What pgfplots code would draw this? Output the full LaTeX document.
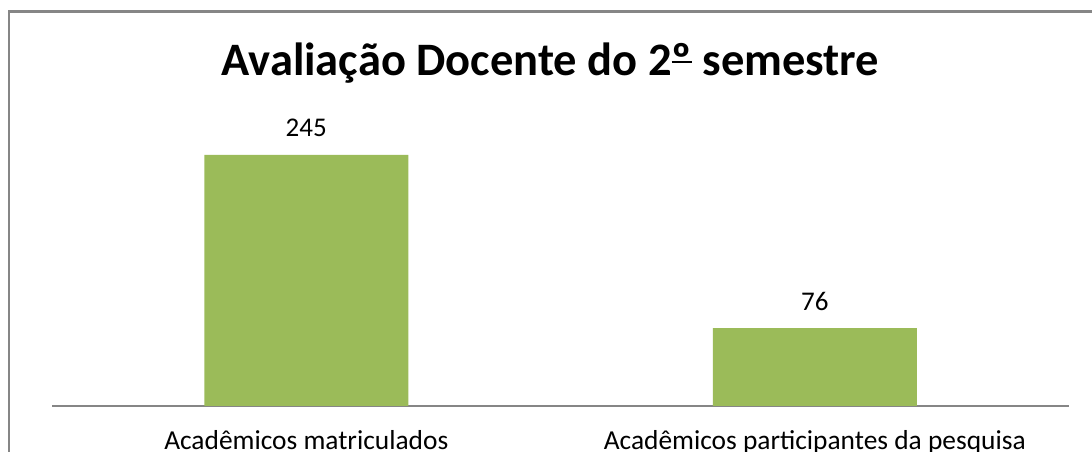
\documentclass[border=0pt]{standalone}
\usepackage{pgfplots}
\pgfplotsset{compat=1.18}
\usepackage{fontspec}
\setmainfont{Carlito}
\definecolor{bargreen}{RGB}{155,187,89}
\definecolor{framegray}{RGB}{134,134,134}
\newcommand{\ordo}{\setbox0\hbox{º}\rlap{\rule[0.27em]{\wd0}{0.06em}}\box0}
\begin{document}
\begin{tikzpicture}[x=1bp,y=1bp]
\useasboundingbox (0,0) rectangle (1092,452);
\draw[framegray,line width=2.5bp] (9,-20) -- (9,440.5) -- (1110,440.5);
\node[anchor=base,font=\fontsize{46.5bp}{52bp}\selectfont\bfseries] at (550.5,376) {Avaliação Docente do 2\ordo{} semestre};
\begin{axis}[
  at={(52bp,46bp)}, anchor=south west,
  scale only axis,
  width=1017bp, height=307.35bp,
  xmin=-0.5, xmax=1.5, ymin=0, ymax=300,
  axis x line*=bottom,
  axis y line=none,
  x axis line style={framegray,line width=1.5bp,-},
  xtick={0,1}, xticklabels={Acadêmicos matriculados,Acadêmicos participantes da pesquisa},
  major tick length=0pt,
  xticklabel style={font=\fontsize{27.4bp}{30bp}\selectfont, anchor=base, yshift=-44bp},
  ybar, bar width=204bp,
  nodes near coords,
  /pgf/number format/assume math mode=true,
  every node near coord/.append style={font=\fontsize{27bp}{30bp}\selectfont, black, anchor=base, yshift=18bp},
  clip=false,
]
\addplot[fill=bargreen, draw=none, bar shift=0pt] coordinates {(0,245) (1,76)};
\end{axis}
\end{tikzpicture}
\end{document}
